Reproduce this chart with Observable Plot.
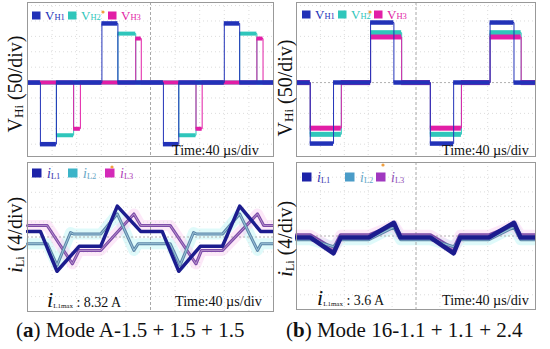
<!DOCTYPE html>
<html><head><meta charset="utf-8">
<script src="https://cdn.jsdelivr.net/npm/d3@7"></script>
<script src="https://cdn.jsdelivr.net/npm/@observablehq/plot@0.6"></script>
<style>
body{margin:0;background:#fff;}
#fig{position:relative;width:550px;height:349px;font-family:"Liberation Serif",serif;overflow:hidden;}
#fig svg{position:absolute;}
</style></head><body><div id="fig"></div>
<script>
// ---------- data (time in µs, voltage in V, current in A) ----------
// voltage segments: [start, end, level]
const aVH1 = [[0,21,0],[21,47,-200],[47,121,0],[121,147,192],[147,221,0],[221,246,-200],[246,320,0],[320,345,192],[345,400,0]];
const aVH2 = [[0,47,0],[47,75,-171],[75,147,0],[147,176,159],[176,246,0],[246,274,-171],[274,345,0],[345,373,159],[373,400,0]];
const aVH3 = [[0,75,0],[75,86,-150],[86,176,0],[176,185,143],[185,274,0],[274,284,-150],[284,373,0],[373,383,143],[383,400,0]];
const bVH1 = [[0,23,0],[23,62,-198],[62,124,0],[124,163,195],[163,224,0],[224,263,-198],[263,324,0],[324,364,195],[364,400,0]];
const bVH2 = [[0,23,0],[23,75,-168],[75,124,0],[124,176,162],[176,224,0],[224,276,-168],[276,324,0],[324,376,162],[376,400,0]];
const bVH3 = [[0,23,0],[23,75,-148],[75,124,0],[124,176,148],[176,224,0],[224,276,-148],[276,324,0],[324,376,148],[376,400,0]];
// current traces: [time, current]
const aIL1 = [[0,1.5],[21,1.5],[48,-9.2],[84,-2.5],[119,-2.5],[146,8.3],[184,1.5],[219,1.5],[246,-9.2],[281,-2.5],[317,-2.5],[345,8.3],[379,1.5],[400,1.5]];
const aIL2 = [[0,-1.8],[32,-1.8],[48,-7.6],[70,1.2],[75,0.8],[119,0.8],[146,6.2],[173,-3.6],[180,-1.8],[232,-1.8],[248,-7.6],[270,1.2],[275,0.8],[317,0.8],[345,6.2],[374,-3.6],[380,-1.8],[400,-1.8]];
const aIL3 = [[0,3.1],[32,3.1],[73,-7.2],[84,-3.6],[119,-3.6],[173,6.2],[184,3.1],[232,3.1],[274,-7.2],[283,-3.6],[317,-3.6],[374,6.2],[384,3.1],[400,3.1]];
const bIL1 = [[0,-0.4],[23,-0.4],[62,-4.7],[74,-0.4],[121,-0.4],[163,3.6],[174,-0.4],[224,-0.4],[263,-4.7],[274,-0.4],[322,-0.4],[364,3.6],[375,-0.4],[400,-0.4]];
const bIL2 = [[0,-1.0],[23,-1.0],[62,-2.9],[74,-1.0],[121,-1.0],[163,2.4],[174,-1.0],[224,-1.0],[263,-2.9],[274,-1.0],[322,-1.0],[364,2.4],[375,-1.0],[400,-1.0]];
const bIL3 = [[0,0.2],[23,0.2],[62,-3.6],[74,0.2],[121,0.2],[163,2.9],[174,0.2],[224,0.2],[263,-3.6],[274,0.2],[322,0.2],[364,2.9],[375,0.2],[400,0.2]];
// graticule
const timeGrid = [40,80,120,160,240,280,320,360];
const voltGrid = [-200,-150,-100,-50,50,100,150,200,250];
const ampGrid = [-16,-12,-8,-4,4,8,12,16];
// texts
const vSubs = ["H1","H2","H3"];
const iSubs = ["L1","L2","L3"];
const iMaxA = "8.32 A", iMaxB = "3.6 A";
const timeLabel = "Time:40 µs/div";
const captions = [["a"," Mode A-1.5 + 1.5 + 1.5"],["b"," Mode 16-1.1 + 1.1 + 2.4"]];

// ---------- colours ----------
const cH1 = "#2232b8", cH2 = "#2fc6bb", cH3 = "#e21ea6";
const cI1 = "#1c1c8e", cI2 = "#5c86a8", cI3 = "#7d4aa8";

const fig = document.getElementById("fig");
function place(node, x, y){ node.style.left = x + "px"; node.style.top = y + "px"; fig.appendChild(node); }

function graticule(yGrid){
  return [
    Plot.ruleX(timeGrid, {stroke:"#dcdcdc", strokeDasharray:"1,3"}),
    Plot.ruleY(yGrid, {stroke:"#dcdcdc", strokeDasharray:"1,3"}),
    Plot.ruleX([200], {stroke:"#a8a8a8", strokeDasharray:"3,2"}),
    Plot.ruleY([0], {stroke:"#b0b0b0", strokeDasharray:"2,2"})
  ];
}
function vTrace(segs, color, w){
  const pts = segs.flatMap(s => [[s[0], s[2]], [s[1], s[2]]]);
  return [
    Plot.line(pts, {x: d => d[0], y: d => d[1], stroke: color, strokeWidth: 1}),
    Plot.ruleY(segs, {y: d => d[2], x1: d => d[0], x2: d => d[1], stroke: color, strokeWidth: w})
  ];
}
function vPanel(h1, h2, h3, w, h, thick){
  return Plot.plot({
    width: w + 2, height: h + 2, margin: 1,
    x: {domain: [0, 400], axis: null},
    y: {domain: [-240, 260], axis: null},
    marks: [
      ...graticule(voltGrid),
      ...vTrace(h2, cH2, thick),
      ...vTrace(h3, cH3, thick),
      ...vTrace(h1, cH1, 4.5),
      Plot.frame({stroke: "#999"})
    ]
  });
}
function iPanel(i1, i2, i3, w, h, wide){
  const L = (data, o) => Plot.line(data, {x: d => d[0], y: d => d[1], ...o});
  return Plot.plot({
    width: w + 2, height: h + 2, margin: 1,
    x: {domain: [0, 400], axis: null},
    y: {domain: [-20, 20], axis: null},
    marks: [
      L(i2, {stroke: "#c4f5f5", strokeWidth: 11, strokeOpacity: 0.55}),
      L(i3, {stroke: "#f9cdef", strokeWidth: 11, strokeOpacity: 0.45}),
      ...graticule(ampGrid),
      L(i3, {stroke: cI3, strokeWidth: wide ? 4 : 3}),
      L(i3, {stroke: "#b592c9", strokeWidth: 1}),
      L(i2, {stroke: cI2, strokeWidth: 3}),
      L(i2, {stroke: "#9cc4d8", strokeWidth: 1}),
      L(i1, {stroke: cI1, strokeWidth: wide ? 4.5 : 3.5}),
      Plot.frame({stroke: "#999"})
    ]
  });
}

place(vPanel(aVH1, aVH2, aVH3, 246, 154, 4), 26, 1);
place(vPanel(bVH1, bVH2, bVH3, 239, 154, 5), 295, 1);
place(iPanel(aIL1, aIL2, aIL3, 246, 149, false), 26, 161);
place(iPanel(bIL1, bIL2, bIL3, 239, 147, true), 295, 161);

// ---------- text overlay ----------
const svg = d3.create("svg").attr("width", 550).attr("height", 349)
  .style("left", "0px").style("top", "0px")
  .attr("font-family", "'Liberation Serif', serif");
fig.appendChild(svg.node());

function text(x, y, parts, attrs = {}){
  const t = svg.append("text").attr("x", x).attr("y", y);
  for (const [k, v] of Object.entries(attrs)) t.attr(k, v);
  for (const p of parts){
    const s = t.append("tspan").text(p.t).attr("font-size", p.s);
    if (p.i) s.attr("font-style", "italic");
    if (p.b) s.attr("font-weight", "bold");
    if (p.f) s.attr("fill", p.f);
    if (p.dy) s.attr("dy", p.dy);
  }
  return t;
}
function rotated(x, y, parts){
  const g = svg.append("g").attr("transform", `translate(${x},${y}) rotate(-90)`);
  const t = g.append("text").attr("text-anchor", "middle").attr("fill", "#111");
  for (const p of parts){
    const s = t.append("tspan").text(p.t).attr("font-size", p.s);
    if (p.i) s.attr("font-style", "italic");
    if (p.dy) s.attr("dy", p.dy);
  }
}
// axis labels
const vLab = [{t:"V", s:20}, {t:"Hi", s:13, dy:1}, {t:" (50/div)", s:20, dy:-1}];
const iLab = [{t:"i", s:22, i:true}, {t:"Li", s:12, dy:2}, {t:"  (4/div)", s:20, dy:-2}];
rotated(22, 84, vLab);
rotated(292, 88, vLab);
rotated(22, 235, iLab);
rotated(292, 239, iLab);

// voltage legends
function vLegend(xs, y, cols){
  xs.forEach((x, k) => {
    svg.append("rect").attr("x", x).attr("y", y - 8).attr("width", 8.5).attr("height", 8).attr("fill", cols[k]);
    text(x + 13, y, [{t:"V", s:13}, {t:vSubs[k], s:8.5}], {fill: cols[k]});
  });
}
vLegend([32, 68, 108], 19.5, [cH1, cH2, cH3]);
vLegend([302, 338, 374], 18.5, [cH1, cH2, cH3]);
svg.append("circle").attr("cx", 103).attr("cy", 12).attr("r", 1.6).attr("fill", "#f0a040");
svg.append("circle").attr("cx", 370).attr("cy", 12).attr("r", 1.6).attr("fill", "#f0a040");

// current legends
function iLegend(xs, y, sq, tc){
  xs.forEach((x, k) => {
    svg.append("rect").attr("x", x).attr("y", y - 9).attr("width", 9.5).attr("height", 9).attr("fill", sq[k]);
    text(x + 15, y, [{t:"i", s:14, i:true}, {t:iSubs[k], s:8.5, dy:1}], {fill: tc[k]});
  });
}
iLegend([32, 68, 105], 177.5, ["#1c22a8", "#3cb4c8", "#d42ab8"], ["#3838b0", "#66a8c8", "#b040b8"]);
iLegend([302, 345, 376], 181.5, ["#1c22a8", "#4a9cc8", "#a038c0"], ["#3838b0", "#66a8c8", "#9050b8"]);
svg.append("circle").attr("cx", 112).attr("cy", 167).attr("r", 1.6).attr("fill", "#f0a040");
svg.append("circle").attr("cx", 383).attr("cy", 165).attr("r", 1.6).attr("fill", "#f0a040");

// time labels
for (const [x, y] of [[172, 154.5], [442, 154.5], [175, 306], [442, 305]]){
  text(x, y, [{t: timeLabel, s: 14.2}], {fill: "#111"});
}
// iL1max labels
text(47, 307, [{t:"i", s:22, i:true}, {t:"L1max", s:7, dy:1}, {t:" : " + iMaxA, s:14, dy:-1}], {fill:"#111"});
text(317, 305, [{t:"i", s:22, i:true}, {t:"L1max", s:7, dy:1}, {t:" : " + iMaxB, s:14, dy:-1}], {fill:"#111"});

// captions
text(16, 337, [{t:"(", s:21}, {t:captions[0][0], s:21, b:true}, {t:")" + captions[0][1], s:21}], {fill:"#111"});
text(286, 337, [{t:"(", s:21}, {t:captions[1][0], s:21, b:true}, {t:")" + captions[1][1], s:21}], {fill:"#111"});
</script></body></html>
